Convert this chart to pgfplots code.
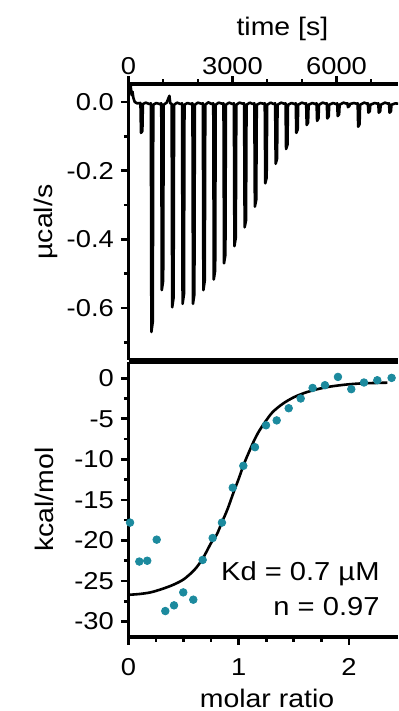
\documentclass[border=0pt]{standalone}
\usepackage{fontspec}
\setmainfont{Liberation Sans}[FakeStretch=1.12]
\usepackage{pgfplots}
\pgfplotsset{compat=1.18}
\definecolor{dotteal}{RGB}{28,138,158}

\begin{document}
\begin{tikzpicture}
\pgfplotsset{
  iso/.style={
    scale only axis, width=134.75pt,
    axis x line*=box, axis y line*=left,
    axis line style={line width=1.6pt},
    tick align=outside,
    major tick length=3.8pt, minor tick length=2.3pt,
    tick style={line width=1.3pt, black},
    ticklabel style={font=\fontsize{12.2}{14}\selectfont},
    label style={font=\fontsize{12.7}{15}\selectfont},
    /pgf/number format/assume math mode=true,
    /pgf/number format/1000 sep={},
  }
}
% ---------------- top panel: thermogram ----------------
\begin{axis}[iso, at={(64.25pt,175.5pt)}, anchor=south west, height=138pt,
  xmin=0, xmax=7774, ymin=-0.7515, ymax=0.0524,
  xtick={0,3000,6000}, minor xtick={1000,2000,4000,5000,7000},
  xtick pos=right, xticklabel pos=right,
  xticklabel style={yshift=-2.5pt},
  ytick={0,-0.2,-0.4,-0.6}, minor ytick={-0.1,-0.3,-0.5,-0.7},
  yticklabel style={/pgf/number format/.cd, fixed, fixed zerofill, precision=1},
  xlabel={time [s]}, ylabel={µcal/s},
  xlabel style={at={(axis description cs:0.571,1.198)}, anchor=center},
  ylabel style={at={(axis description cs:-0.306,0.5)}, anchor=center},
]
\addplot[black, line width=1.3pt, line join=round] coordinates {
(0,0.045) (20,0.052) (60,0.050) (90,0.020) (115,0.030) (140,0.012) (180,0.000) (250,-0.004) (340,-0.003)
(345,-0.003) (360,-0.090) (400,-0.085) (415,-0.006) (500,-0.002) (600,-0.006)
(645,-0.004) (660,-0.670) (700,-0.640) (715,-0.008) (800,-0.003) (900,-0.006)
(945,-0.004) (960,-0.548) (1000,-0.520) (1015,-0.008) (1100,-0.002) (1180,0.018) (1205,-0.004)
(1245,-0.005) (1260,-0.598) (1300,-0.570) (1315,-0.008) (1400,-0.002) (1500,-0.006)
(1545,-0.004) (1560,-0.588) (1600,-0.560) (1615,-0.008) (1700,-0.003) (1800,-0.006)
(1845,-0.004) (1860,-0.588) (1900,-0.560) (1915,-0.008) (2000,-0.002) (2100,-0.005)
(2145,-0.004) (2160,-0.548) (2200,-0.520) (2215,-0.008) (2300,-0.001) (2400,-0.006)
(2445,-0.004) (2460,-0.517) (2500,-0.490) (2515,-0.008) (2600,-0.002) (2700,-0.005)
(2740,-0.004) (2755,-0.470) (2795,-0.445) (2810,-0.008) (2900,-0.002) (3000,-0.006)
(3040,-0.004) (3055,-0.420) (3095,-0.395) (3110,-0.008) (3200,-0.002) (3300,-0.005)
(3335,-0.004) (3350,-0.365) (3390,-0.345) (3405,-0.008) (3500,-0.002) (3590,-0.006)
(3630,-0.004) (3645,-0.305) (3685,-0.285) (3700,-0.008) (3800,-0.003) (3890,-0.005)
(3930,-0.004) (3945,-0.237) (3985,-0.220) (4000,-0.008) (4100,-0.002) (4190,-0.006)
(4230,-0.004) (4245,-0.180) (4285,-0.165) (4300,-0.008) (4400,-0.002) (4490,-0.005)
(4530,-0.004) (4545,-0.137) (4585,-0.125) (4600,-0.008) (4700,-0.003) (4790,-0.006)
(4825,-0.004) (4840,-0.090) (4880,-0.080) (4895,-0.008) (5000,-0.002) (5090,-0.005)
(5125,-0.004) (5140,-0.067) (5180,-0.060) (5195,-0.008) (5300,-0.003) (5390,-0.006)
(5425,-0.004) (5440,-0.055) (5480,-0.048) (5495,-0.008) (5600,-0.002) (5690,-0.005)
(5720,-0.004) (5735,-0.048) (5775,-0.042) (5790,-0.008) (5900,-0.003) (5990,-0.006)
(6020,-0.004) (6035,-0.041) (6075,-0.036) (6090,-0.008) (6200,-0.002) (6290,-0.005)
(6315,-0.004) (6330,-0.015) (6370,-0.012) (6385,-0.006) (6500,-0.003) (6580,-0.005)
(6610,-0.004) (6625,-0.072) (6665,-0.065) (6680,-0.008) (6800,-0.002) (6880,-0.005)
(6905,-0.004) (6920,-0.031) (6960,-0.027) (6975,-0.008) (7100,-0.003) (7180,-0.005)
(7205,-0.004) (7220,-0.031) (7260,-0.027) (7275,-0.008) (7400,-0.002) (7490,-0.005)
(7515,-0.004) (7530,-0.031) (7570,-0.027) (7585,-0.008) (7700,-0.004) (7780,-0.005)
};
\end{axis}
% ---------------- bottom panel: binding isotherm ----------------
\begin{axis}[iso, at={(64.25pt,37pt)}, anchor=south west, height=137.5pt,
  xmin=0, xmax=2.446, ymin=-31.9, ymax=2,
  xtick={0,1,2}, minor x tick num=3,
  xtick pos=left,
  xticklabel style={yshift=-3.5pt},
  ytick={0,-5,-10,-15,-20,-25,-30}, minor y tick num=1,
  xlabel={molar ratio}, ylabel={kcal/mol},
  xlabel style={at={(axis description cs:0.514,-0.225)}, anchor=center},
  ylabel style={at={(axis description cs:-0.313,0.5)}, anchor=center},
]
\addplot[only marks, mark=*, mark size=1.9pt, color=dotteal, mark options={draw=dotteal, fill=dotteal}] coordinates {
(0.014,-17.8) (0.098,-22.6) (0.170,-22.5) (0.256,-19.9) (0.334,-28.7)
(0.413,-28.0) (0.497,-26.4) (0.588,-27.3) (0.673,-22.4) (0.764,-19.7)
(0.848,-17.8) (0.946,-13.5) (1.042,-10.8) (1.148,-8.5) (1.248,-5.8)
(1.345,-5.2) (1.454,-3.7) (1.563,-2.5) (1.671,-1.2) (1.783,-0.86)
(1.901,0.16) (2.022,-1.35) (2.137,-0.53) (2.258,-0.25) (2.388,0.04)
};
\addplot[black, line width=1.3pt, smooth] coordinates {
(0.00,-26.7) (0.10,-26.6) (0.20,-26.4) (0.30,-26.0) (0.40,-25.5)
(0.50,-24.8) (0.60,-23.6) (0.675,-22.2) (0.75,-20.3) (0.80,-19.3)
(0.85,-17.7) (0.90,-16.1) (0.95,-14.2) (1.00,-12.4) (1.05,-10.5)
(1.10,-8.9) (1.15,-7.4) (1.20,-6.2) (1.30,-4.3) (1.40,-3.15)
(1.50,-2.35) (1.60,-1.8) (1.70,-1.4) (1.80,-1.1) (1.90,-0.9)
(2.00,-0.75) (2.10,-0.65) (2.20,-0.6) (2.35,-0.55)
};
\node[anchor=base east, inner sep=0pt, font=\fontsize{13}{15}\selectfont] at (axis cs:2.282,-24.9) {Kd = 0.7 µM};
\node[anchor=base east, inner sep=0pt, font=\fontsize{13}{15}\selectfont] at (axis cs:2.282,-29.3) {n = 0.97};
\end{axis}
\pgfresetboundingbox
\path[use as bounding box] (0,0) rectangle (199pt,355.5pt);
\end{tikzpicture}
\end{document}
